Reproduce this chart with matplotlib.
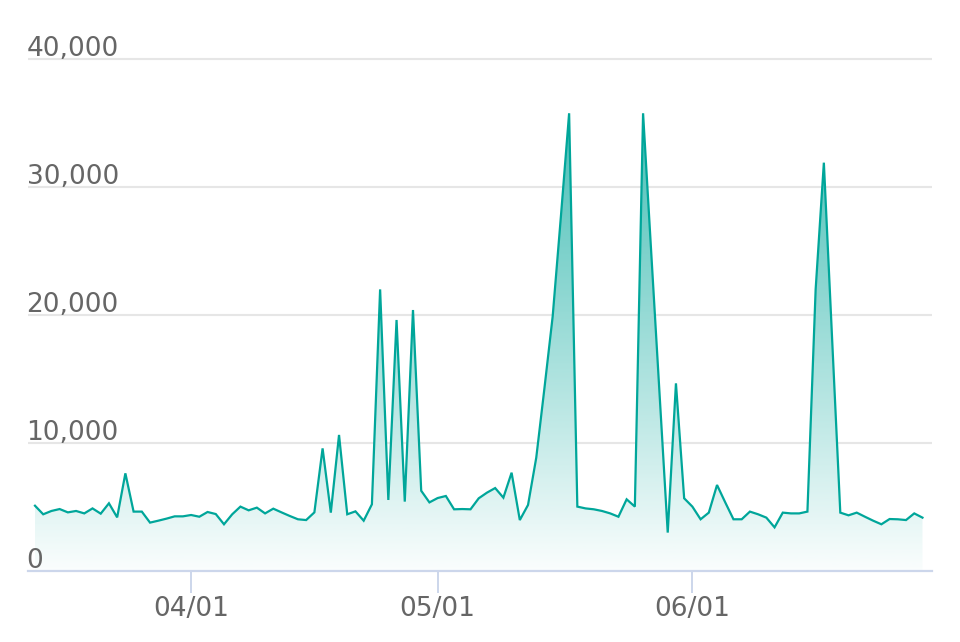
import numpy as np
import pandas as pd
import matplotlib
matplotlib.use("Agg")
import matplotlib.pyplot as plt
import matplotlib.dates as mdates
from matplotlib.colors import LinearSegmentedColormap
from matplotlib.transforms import blended_transform_factory

# daily values, 2023-03-13 .. 2023-06-29
start_date = "2023-03-13"
values = [
    5100, 4430, 4690, 4840, 4580, 4690, 4500, 4890, 4480, 5290,
    4190, 7630, 4640, 4640, 3780, 3930, 4090, 4270, 4270, 4375,
    4240, 4610, 4450, 3650, 4430, 5030, 4740, 4950, 4500, 4870,
    4580, 4300, 4040, 3980, 4580, 9580, 4560, 10630, 4430, 4660,
    3930, 5210, 22000, 5550, 19610, 5420, 20390, 6270, 5360, 5700,
    5860, 4820, 4840, 4820, 5680, 6120, 6480, 5730, 7680, 3980,
    5160, 8850, 14300, 19900, 27700, 35760, 5030, 4890, 4820, 4690,
    4500, 4240, 5600, 5030, 35760, 24800, 13900, 3000, 14660, 5680,
    5030, 4040, 4560, 6720, 5360, 4040, 4040, 4640, 4430, 4170,
    3410, 4560, 4500, 4500, 4640, 22000, 31900, 18200, 4560, 4350,
    4560, 4240, 3930, 3650, 4060, 4040, 3980, 4500, 4170,
]
dates = pd.date_range(start_date, periods=len(values), freq="D")
y_ticks = [0, 10000, 20000, 30000, 40000]
x_ticks = ["2023-04-01", "2023-05-01", "2023-06-01"]

line_color = "#00a69a"
grid_color = "#e6e6e6"
axis_color = "#ccd6eb"
text_color = "#666666"

W, H = 960, 642
fig = plt.figure(figsize=(W / 100, H / 100), dpi=100)
ax = fig.add_axes([28 / W, (H - 571) / H, (932 - 28) / W, (571 - 55) / H])

x = mdates.date2num(dates)
y = np.array(values, dtype=float)
ymax = 40000 * (571 - 55) / (571 - 59)

ax.set_xlim(x[0] - 0.85, x[-1] + 1.16)
ax.set_ylim(0, ymax)

# gradient fill under the line
poly = ax.fill_between(x, y, 0, facecolor="none", edgecolor="none")
cmap = LinearSegmentedColormap.from_list("fade", ["#ffffff", line_color])
top = y.max()
grad = np.linspace(0.02, 0.72, 256).reshape(-1, 1)
img = ax.imshow(grad, cmap=cmap, vmin=0, vmax=1, aspect="auto", origin="lower",
                extent=[x[0], x[-1], 0, top], zorder=1)
path = poly.get_paths()[0]
img.set_clip_path(path, ax.transData)

ax.plot(x, y, color=line_color, lw=1.6, zorder=3, solid_joinstyle="miter")

# grid lines and y labels (drawn above the lines, left aligned)
trans = blended_transform_factory(ax.transAxes, ax.transData)
for v in y_ticks[1:]:
    ax.axhline(v, color=grid_color, lw=1.5, zorder=0)
for v in y_ticks:
    ax.annotate(f"{v:,}", xy=(0, v), xycoords=trans, xytext=(-1, 2.5),
                textcoords="offset points", ha="left", va="baseline",
                fontsize=19, color=text_color, zorder=4)

for s in ["top", "right", "left"]:
    ax.spines[s].set_visible(False)
ax.spines["bottom"].set_color(axis_color)
ax.spines["bottom"].set_linewidth(1.6)
ax.spines["bottom"].set_zorder(5)

ax.set_yticks([])
ax.set_xticks(mdates.date2num(pd.to_datetime(x_ticks)))
ax.xaxis.set_major_formatter(mdates.DateFormatter("%m/%d"))
ax.tick_params(axis="x", length=16, width=1.4, color=axis_color,
               labelsize=19, labelcolor=text_color, pad=2)

fig.savefig("out.png", dpi=100)
